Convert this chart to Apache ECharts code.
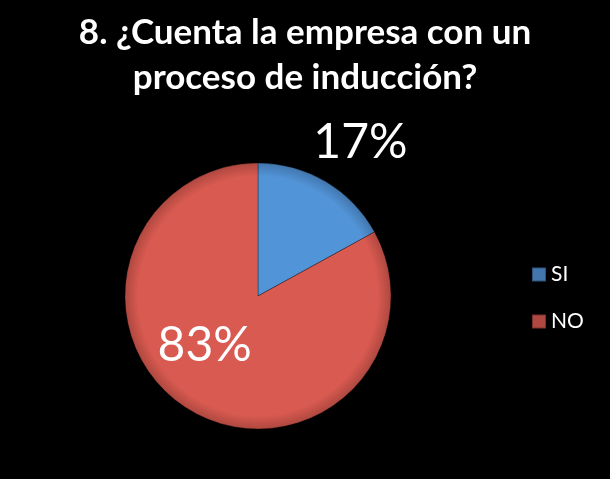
<!DOCTYPE html>
<html>
<head>
<meta charset="utf-8">
<script src="https://cdn.jsdelivr.net/npm/echarts@6/dist/echarts.min.js"></script>
<style>
  html, body { margin: 0; padding: 0; background: #000; }
  #chart { width: 610px; height: 479px; }
</style>
</head>
<body>
<div id="chart"></div>
<script>
// Survey question 8: does the company have an induction process?
const titleText = '8. ¿Cuenta la empresa con un\nproceso de inducción?';
const categories = ['SI', 'NO'];
const percents = [17, 83];
const sliceColors = ['#5294D8', '#D95A50'];

const chart = echarts.init(document.getElementById('chart'), null, { renderer: 'canvas' });

const pieCenter = [258, 296];
const pieRadius = 133;
const labelOffsets = [[67, -94], [-18, -10]];

// soft bevel: flat fill that darkens towards the rim
function bevel(color) {
  return {
    type: 'radial', x: pieCenter[0], y: pieCenter[1], r: pieRadius, global: true,
    colorStops: [
      { offset: 0, color: color },
      { offset: 0.9, color: color },
      { offset: 1, color: echarts.color.lerp(0.2, [color, '#000000']) }
    ]
  };
}

chart.setOption({
  backgroundColor: '#000000',
  animation: false,
  title: {
    text: titleText,
    left: 'center',
    top: 5,
    textStyle: {
      color: '#ffffff',
      fontFamily: 'Lato',
      fontWeight: 'bold',
      fontSize: 35,
      lineHeight: 45
    }
  },
  legend: {
    orient: 'vertical',
    left: 526,
    top: 259,
    itemWidth: 14,
    itemHeight: 14,
    itemGap: 26,
    icon: 'rect',
    data: categories,
    textStyle: {
      color: '#ffffff',
      fontFamily: 'Lato',
      fontSize: 21,
      padding: [0, 0, 0, 0]
    }
  },
  series: [{
    type: 'pie',
    center: pieCenter,
    radius: pieRadius,
    startAngle: 90,
    clockwise: true,
    silent: true,
    itemStyle: {
      borderColor: 'rgba(0,0,0,0.3)',
      borderWidth: 1
    },
    label: {
      show: true,
      position: 'inside',
      formatter: '{c}%',
      color: '#ffffff',
      fontFamily: 'Lato',
      fontSize: 48
    },
    labelLine: { show: false },
    data: categories.map((name, i) => ({
      name: name,
      value: percents[i],
      itemStyle: { color: bevel(sliceColors[i]) },
      label: { offset: labelOffsets[i] }
    }))
  }]
});
</script>
</body>
</html>
